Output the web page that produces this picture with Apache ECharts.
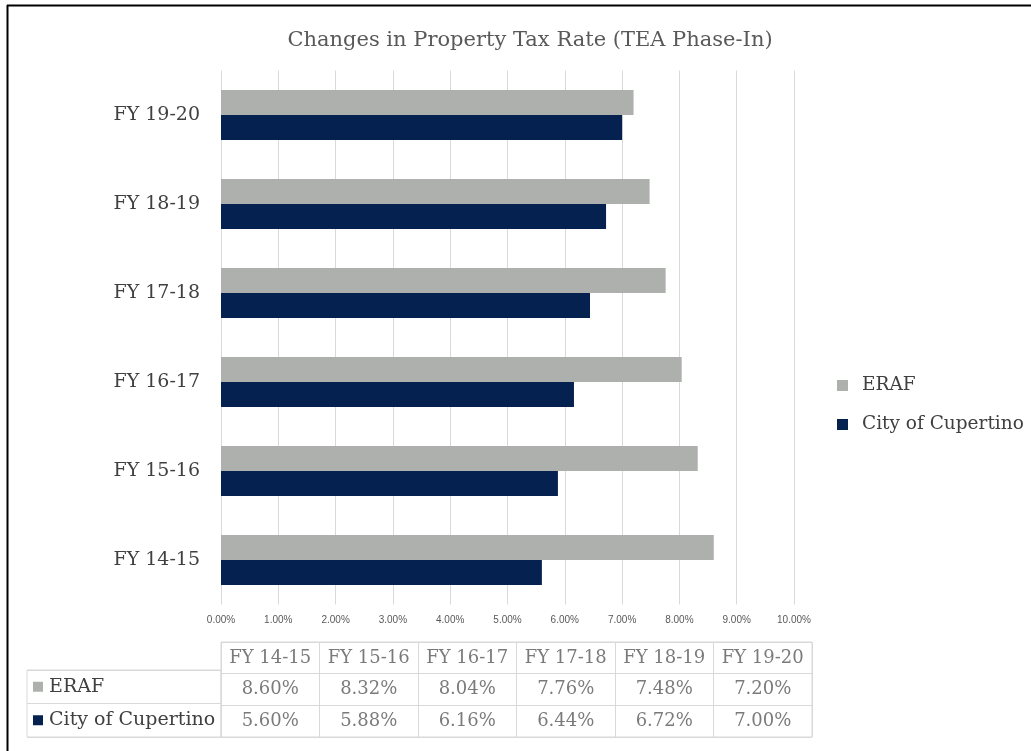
<!DOCTYPE html>
<html>
<head>
<meta charset="utf-8">
<script src="https://cdn.jsdelivr.net/npm/echarts@6/dist/echarts.min.js"></script>
<style>html,body{margin:0;padding:0;background:#fff}#c{width:1031px;height:751px}</style>
</head>
<body>
<div id="c"></div>
<script>
const categories = ['FY 14-15', 'FY 15-16', 'FY 16-17', 'FY 17-18', 'FY 18-19', 'FY 19-20'];
const eraf = [8.60, 8.32, 8.04, 7.76, 7.48, 7.20];
const cupertino = [5.60, 5.88, 6.16, 6.44, 6.72, 7.00];
const seriesNames = ['ERAF', 'City of Cupertino'];
const titleText = 'Changes in Property Tax Rate (TEA Phase-In)';

const GRAY = '#AEB0AE', NAVY = '#05214F', GRID = '#d9d9d9';
const SERIF = 'DejaVu Serif';
const fmt = v => v.toFixed(2) + '%';

const tableData = [];
categories.forEach((c, i) => {
  tableData.push([c, 'hdr', c]);
  tableData.push([c, seriesNames[0], fmt(eraf[i])]);
  tableData.push([c, seriesNames[1], fmt(cupertino[i])]);
});

const chart = echarts.init(document.getElementById('c'));
chart.setOption({
  animation: false,
  backgroundColor: '#fff',
  title: {
    text: titleText, left: 525, top: 25, textAlign: 'center',
    textStyle: {fontFamily: SERIF, fontSize: 21, fontWeight: 'normal', color: '#595959'}
  },
  legend: {
    data: seriesNames, orient: 'vertical', left: 832, top: 371,
    icon: 'rect', itemWidth: 11, itemHeight: 11, itemGap: 20,
    textStyle: {fontFamily: SERIF, fontSize: 18.5, color: '#404040', padding: [0, 0, 0, 9]}
  },
  grid: [
    {left: 221, top: 70.5, width: 573, height: 534},
    {left: 221, top: 642, width: 591, height: 95, show: true, borderColor: GRID, borderWidth: 1},
    {left: 27, top: 670, width: 194, height: 67, show: true, borderColor: GRID, borderWidth: 1}
  ],
  xAxis: [
    {gridIndex: 0, type: 'value', min: 0, max: 10, interval: 1,
     axisLine: {show: false}, axisTick: {show: false},
     splitLine: {lineStyle: {color: GRID}},
     axisLabel: {formatter: fmt, fontFamily: 'Liberation Sans', fontSize: 10, color: '#595959', margin: 11}},
    {gridIndex: 1, type: 'category', data: categories,
     axisLine: {show: false}, axisTick: {show: false}, axisLabel: {show: false},
     splitLine: {show: true, lineStyle: {color: GRID}}},
    {gridIndex: 2, type: 'value', show: false, min: 0, max: 1}
  ],
  yAxis: [
    {gridIndex: 0, type: 'category', data: categories,
     axisLine: {show: false}, axisTick: {show: false},
     axisLabel: {fontFamily: SERIF, fontSize: 19, color: '#404040', margin: 21}},
    {gridIndex: 1, type: 'category', data: ['hdr', seriesNames[0], seriesNames[1]], inverse: true,
     axisLine: {show: false}, axisTick: {show: false}, axisLabel: {show: false},
     splitLine: {show: true, lineStyle: {color: GRID}}},
    {gridIndex: 2, type: 'category', data: seriesNames, inverse: true,
     axisLine: {show: false}, axisTick: {show: false},
     splitLine: {show: true, lineStyle: {color: GRID}},
     axisLabel: {inside: true, margin: 6, align: 'left',
       formatter: v => (v === seriesNames[0] ? '{g|}' : '{n|}') + ' ' + v,
       fontFamily: SERIF, fontSize: 19, color: '#404040',
       rich: {g: {width: 10, height: 10, backgroundColor: GRAY},
              n: {width: 10, height: 10, backgroundColor: NAVY}}}}
  ],
  series: [
    {name: seriesNames[0], type: 'bar', xAxisIndex: 0, yAxisIndex: 0, data: eraf,
     barWidth: 25, barGap: '0%', itemStyle: {color: GRAY}},
    {name: seriesNames[1], type: 'bar', xAxisIndex: 0, yAxisIndex: 0, data: cupertino,
     barWidth: 25, barGap: '0%', itemStyle: {color: NAVY}},
    {type: 'scatter', xAxisIndex: 1, yAxisIndex: 1, data: tableData, symbolSize: 1,
     itemStyle: {color: 'rgba(0,0,0,0)'}, silent: true,
     label: {show: true, position: 'inside', formatter: p => p.value[2],
       fontFamily: SERIF, fontSize: 18, color: '#595959'}}
  ],
  graphic: [
    {type: 'line', shape: {x1: 7, y1: 5.5, x2: 1031, y2: 5.5}, style: {stroke: '#000', lineWidth: 2}},
    {type: 'line', shape: {x1: 7.5, y1: 5, x2: 7.5, y2: 751}, style: {stroke: '#000', lineWidth: 2}}
  ]
});
</script>
</body>
</html>
